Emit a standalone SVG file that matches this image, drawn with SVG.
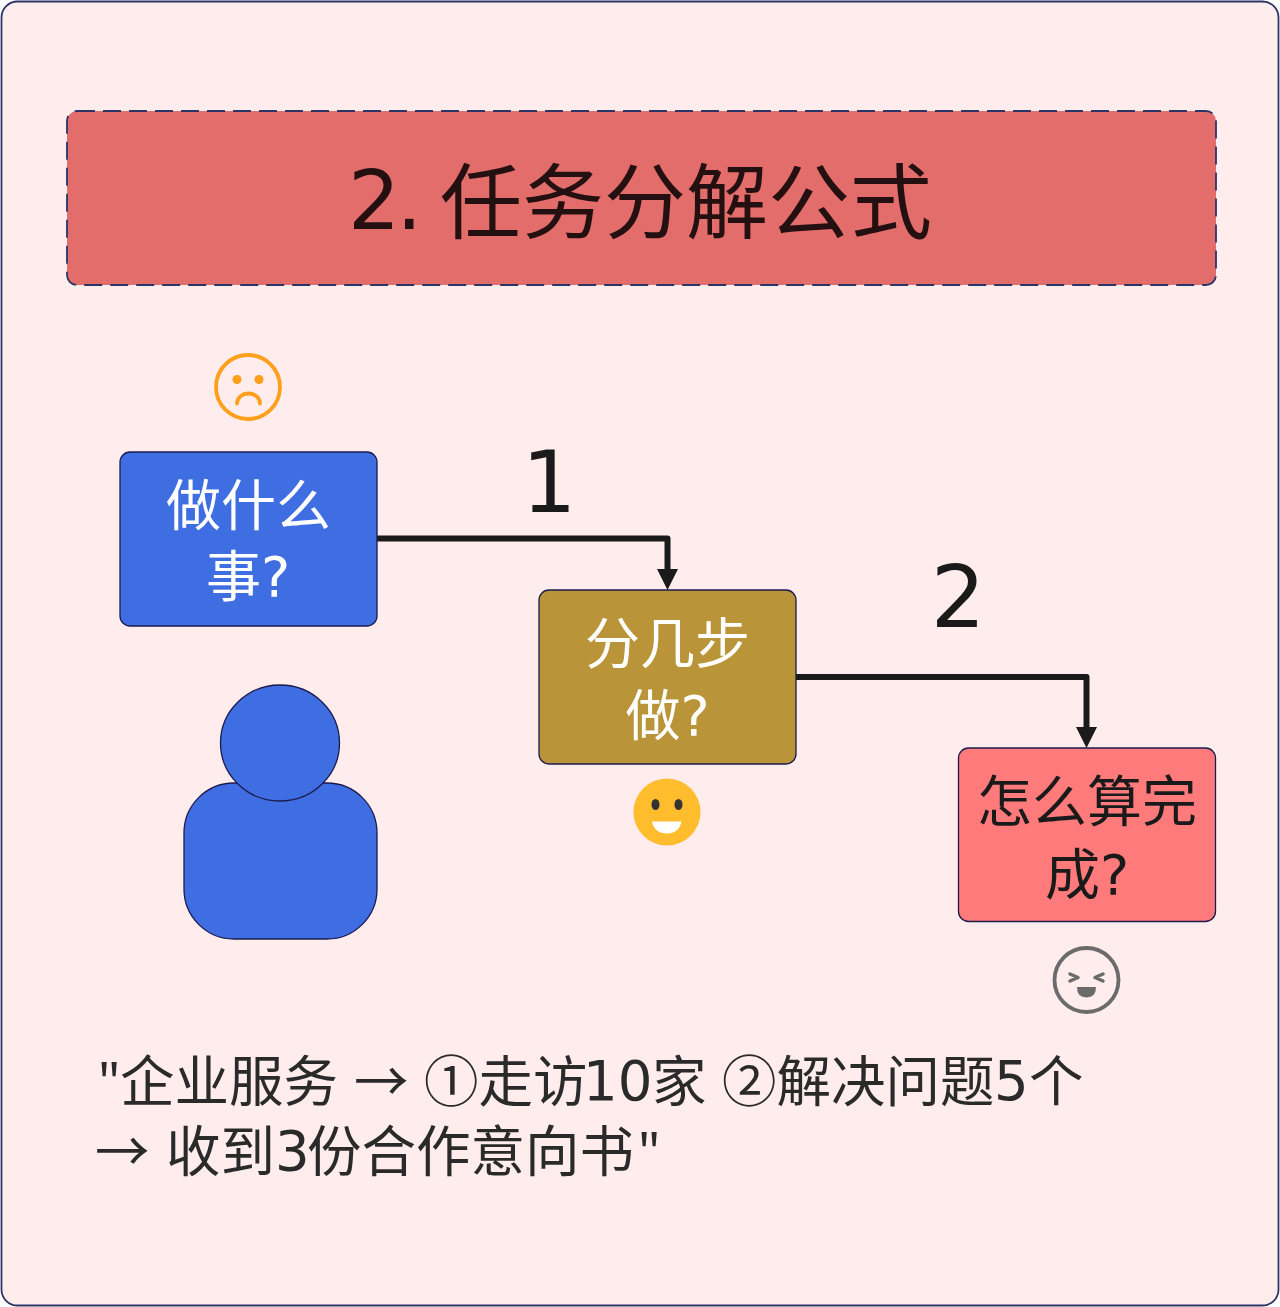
<svg xmlns="http://www.w3.org/2000/svg" width="1280" height="1307" viewBox="0 0 1280 1307">
<style>
text{font-family:"DejaVu Sans","Noto Sans CJK SC",sans-serif;text-anchor:middle;fill:#1a1a1a}
.cjk{font-family:"Noto Sans CJK SC",sans-serif}
.q{font-family:"Noto Sans",sans-serif}
.n{stroke:#1b1b50;stroke-width:1.3}
.box{font-size:55px}
.w{fill:#fff}
.conn{fill:none;stroke:#1a1a1a;stroke-width:6;stroke-linejoin:round}
.big{font-size:86px}
.note{font-size:54.5px;text-anchor:start;fill:#2a2a2a}
.head{fill:#1a1a1a}
.t{fill:#241010;font-size:82px;text-anchor:start}
</style>
<rect id="bg" x="1.500" y="1.500" width="1277" height="1304" rx="16" fill="#ffecec" stroke="#2b3566" stroke-width="1.800"/>
<g id="title"><rect x="67" y="111" width="1149" height="174" rx="10" fill="#e36d6b" stroke="#2b3566" stroke-width="1.800" stroke-dasharray="18 8"/><text class="t" x="348" y="229" letter-spacing="-4">2.</text><text class="t cjk" x="440" y="232">任务分解公式</text></g>
<g id="connectors">
<path class="conn" d="M377 538.500H667.500V570"/><path class="head" d="M657 569H678L667.500 590Z"/>
<path class="conn" d="M796 677H1086.500V728"/><path class="head" d="M1076 727H1097L1086.500 748Z"/>
</g>
<text class="big" x="549" y="512">1</text><text class="big" x="958" y="627">2</text>
<g id="n1"><rect class="n" x="120" y="452" width="257" height="174" rx="10" fill="#3f6ee3"/><text class="box w" x="248.500" y="525" style="fill:#fff">做什么</text><text class="box w" x="248" y="596" style="fill:#fff">事?</text></g>
<g id="n2"><rect class="n" x="539" y="590" width="257" height="174" rx="10" fill="#ba9438"/><text class="box w" x="667.500" y="663" style="fill:#fff">分几步</text><text class="box w" x="667.500" y="735" style="fill:#fff">做?</text></g>
<g id="n3"><rect class="n" x="958.500" y="748" width="257" height="173.500" rx="10" fill="#ff7b7b"/><text class="box" x="1087" y="821">怎么算完</text><text class="box" x="1087" y="894">成?</text></g>
<g id="person"><rect class="n" x="184" y="783" width="193" height="156" rx="50" fill="#3f6ee3"/><ellipse class="n" cx="280" cy="743" rx="59.500" ry="58" fill="#3f6ee3"/></g>
<g id="sad" fill="none" stroke="#ff9f1c"><circle cx="248" cy="387" r="32" stroke-width="3.800"/><circle cx="237" cy="379.500" r="4.500" fill="#ff9f1c" stroke="none"/><circle cx="259" cy="379.500" r="4.500" fill="#ff9f1c" stroke="none"/><path d="M237 403.500A11.500 10 0 0 1 260 403.500" stroke-width="3.800" stroke-linecap="round"/></g>
<g id="smile"><circle cx="667" cy="812" r="33.500" fill="#ffbd2e"/><ellipse cx="655.500" cy="804.500" rx="4" ry="5.500" fill="#333"/><ellipse cx="678.500" cy="804.500" rx="4" ry="5.500" fill="#333"/><path d="M652 821.500H681.500Q679 833.500 667 833.500Q654.500 833.500 652 821.500Z" fill="#fff"/></g>
<g id="laugh" fill="none" stroke="#6b6b6b"><circle cx="1086.500" cy="980" r="32" stroke-width="3.800"/><path d="M1070 974L1078 977.500L1070 981M1103 974L1095 977.500L1103 981" stroke-width="3.500" stroke-linecap="round" stroke-linejoin="round"/><path d="M1077 987H1096Q1096 997.500 1086.500 997.500Q1077 997.500 1077 987Z" fill="#6b6b6b" stroke="none"/></g>
<g id="note">
<text class="note" y="1101"><tspan class="q" x="98">"</tspan><tspan class="cjk" x="120">企业服务</tspan><tspan class="cjk" x="354">→</tspan><tspan class="cjk" x="424">①走访</tspan><tspan x="583" y="1100">10</tspan><tspan class="cjk" x="652" y="1101">家</tspan><tspan class="cjk" x="722">②解决问题</tspan><tspan x="994" y="1100">5</tspan><tspan class="cjk" x="1029" y="1101">个</tspan></text>
<text class="note" y="1171"><tspan class="cjk" x="95">→</tspan><tspan class="cjk" x="166">收到</tspan><tspan x="275" y="1170" letter-spacing="-3">3</tspan><tspan class="cjk" x="307" y="1171">份合作意向书</tspan><tspan class="q" x="638">"</tspan></text>
</g>
</svg>
